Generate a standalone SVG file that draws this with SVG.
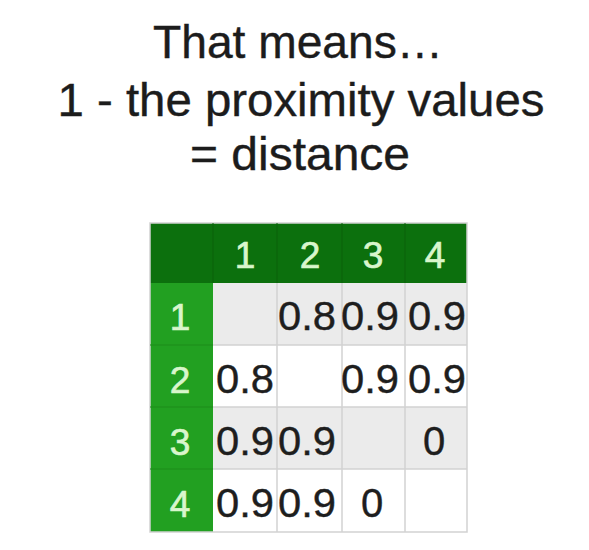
<svg xmlns="http://www.w3.org/2000/svg" width="589" height="550" viewBox="0 0 589 550">
<style>
.title{font-family:"Liberation Sans",Arial,sans-serif;font-size:46px;fill:#1c1c1c;stroke:#1c1c1c;stroke-width:0.4;text-anchor:middle}
.hd{font-family:"Liberation Sans",Arial,sans-serif;font-size:37px;fill:#d9f6cc;stroke:#d9f6cc;stroke-width:0.7;text-anchor:middle}
.v{font-family:"Liberation Sans",Arial,sans-serif;font-size:40px;fill:#1e1e1e;stroke:#1e1e1e;stroke-width:0.4;text-anchor:middle}
.grid{stroke:#d2d2d2;stroke-width:1.5;fill:none}
</style>
<rect width="589" height="550" fill="#ffffff"/>
<g id="title">
<text class="title" x="298" y="58" textLength="290" lengthAdjust="spacingAndGlyphs">That means…</text>
<text class="title" x="301" y="116" textLength="487" lengthAdjust="spacingAndGlyphs">1 - the proximity values</text>
<text class="title" x="300" y="170" textLength="220" lengthAdjust="spacingAndGlyphs">= distance</text>
</g>
<g id="table">
<rect x="150" y="283" width="317" height="62" fill="#ebebeb"/>
<rect x="150" y="345" width="317" height="62" fill="#ffffff"/>
<rect x="150" y="407" width="317" height="62" fill="#ebebeb"/>
<rect x="150" y="469" width="317" height="63" fill="#ffffff"/>
<rect x="150" y="223" width="317" height="60" fill="#0c700d"/>
<rect x="150" y="283" width="63" height="249" fill="#22a021"/>
<g class="grid">
<line x1="277" y1="283" x2="277" y2="532"/>
<line x1="342" y1="283" x2="342" y2="532"/>
<line x1="405" y1="283" x2="405" y2="532"/>
<line x1="213" y1="345" x2="467" y2="345"/>
<line x1="213" y1="407" x2="467" y2="407"/>
<line x1="213" y1="469" x2="467" y2="469"/>
<rect x="150" y="223" width="317" height="309"/>
</g>
<g stroke="#0a600b" stroke-width="1">
<line x1="213" y1="223" x2="213" y2="283"/>
<line x1="277" y1="223" x2="277" y2="283"/>
<line x1="342" y1="223" x2="342" y2="283"/>
<line x1="405" y1="223" x2="405" y2="283"/>
</g>
<g stroke="#1c8c1b" stroke-width="1">
<line x1="150" y1="345" x2="213" y2="345"/>
<line x1="150" y1="407" x2="213" y2="407"/>
<line x1="150" y1="469" x2="213" y2="469"/>
</g>
<text class="hd" x="245" y="268">1</text>
<text class="hd" x="310" y="268">2</text>
<text class="hd" x="373" y="268">3</text>
<text class="hd" x="435" y="268">4</text>
<text class="hd" x="180" y="330">1</text>
<text class="hd" x="180" y="393">2</text>
<text class="hd" x="180" y="455">3</text>
<text class="hd" x="180" y="517">4</text>
<text class="v" x="307" y="330" textLength="58" lengthAdjust="spacingAndGlyphs">0.8</text>
<text class="v" x="370" y="330" textLength="58" lengthAdjust="spacingAndGlyphs">0.9</text>
<text class="v" x="437" y="330" textLength="58" lengthAdjust="spacingAndGlyphs">0.9</text>
<text class="v" x="245" y="393" textLength="58" lengthAdjust="spacingAndGlyphs">0.8</text>
<text class="v" x="370" y="393" textLength="58" lengthAdjust="spacingAndGlyphs">0.9</text>
<text class="v" x="437" y="393" textLength="58" lengthAdjust="spacingAndGlyphs">0.9</text>
<text class="v" x="245" y="455" textLength="58" lengthAdjust="spacingAndGlyphs">0.9</text>
<text class="v" x="307" y="455" textLength="58" lengthAdjust="spacingAndGlyphs">0.9</text>
<text class="v" x="434" y="455">0</text>
<text class="v" x="245" y="517" textLength="58" lengthAdjust="spacingAndGlyphs">0.9</text>
<text class="v" x="307" y="517" textLength="58" lengthAdjust="spacingAndGlyphs">0.9</text>
<text class="v" x="372" y="517">0</text>
</g>
</svg>
